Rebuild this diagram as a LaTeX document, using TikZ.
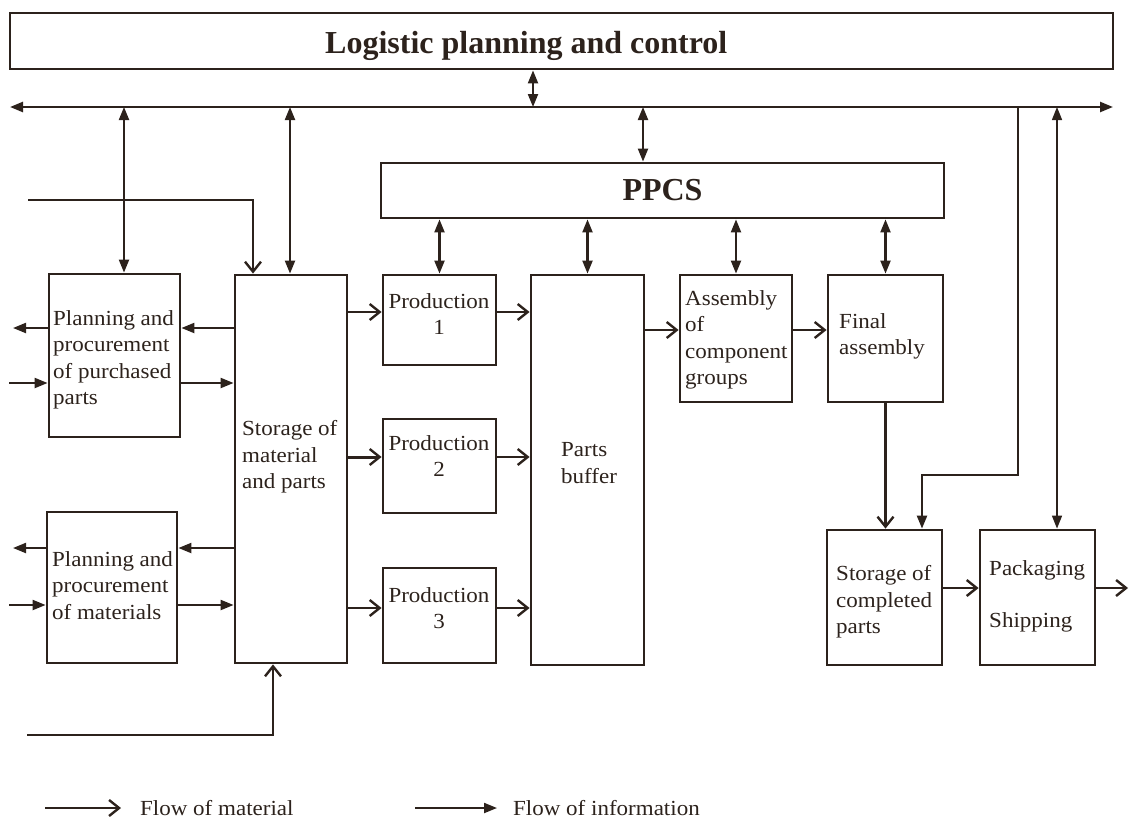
\documentclass[tikz,border=0pt]{standalone}
\usepackage{fontspec}
\setmainfont{Liberation Serif}
\newfontfamily\boxfont{Liberation Serif}[FakeStretch=1.07]
\usetikzlibrary{arrows.meta}
\definecolor{ink}{RGB}{44,34,28}
\begin{document}
\begin{tikzpicture}[x=1pt,y=-1pt,
  block/.style={draw=ink, line width=2.8pt, inner sep=0pt},
  txt/.style={font=\boxfont\fontsize{21.5}{26.3}\selectfont, text=ink, inner sep=0pt, align=left, anchor=north west},
  ctxt/.style={txt, align=center, anchor=north},
  head/.style={font=\bfseries\fontsize{32}{38}\selectfont, text=ink},
  mat/.style={draw=ink, line width=2.3pt, -{Straight Barb[length=10pt,width=16pt,line width=2.4pt]}},
  info/.style={draw=ink, line width=2.1pt, -{Triangle[length=13pt,width=10pt]}},
  info2/.style={draw=ink, line width=2.1pt, {Triangle[length=13pt,width=10pt]}-{Triangle[length=13pt,width=10pt]}},
  thinline/.style={line width=1.5pt}
]
\useasboundingbox (0,0) rectangle (1129,819);

% control levels
\node[block, minimum width=1103pt, minimum height=56pt] (lpc) at (561.5,41) {};
\node[head, inner sep=0pt, anchor=north west] (lpc-t) at (325,31.5) {Logistic planning and control};
\node[block, head, minimum width=563pt, minimum height=55pt] (ppcs) at (662.5,190.5) {PPCS};

% procurement and storage
\node[block, minimum width=131pt, minimum height=163pt] (pp1) at (114.5,355.5) {};
\node[txt] (pp1-t) at (53,310.5) {Planning and\\procurement\\of purchased\\parts};
\node[block, minimum width=130pt, minimum height=151pt] (pp2) at (112,587.5) {};
\node[txt] (pp2-t) at (52,551.5) {Planning and\\procurement\\of materials};
\node[block, minimum width=112pt, minimum height=388pt] (stor) at (291,469) {};
\node[txt] (stor-t) at (242,420.5) {Storage of\\material\\and parts};

% production
\node[block, minimum width=113pt, minimum height=90pt] (prod1) at (439.5,320) {};
\node[ctxt] (prod1-t) at (439,293.5) {Production\\1};
\node[block, minimum width=113pt, minimum height=94pt] (prod2) at (439.5,466) {};
\node[ctxt] (prod2-t) at (439,435.5) {Production\\2};
\node[block, minimum width=113pt, minimum height=95pt] (prod3) at (439.5,615.5) {};
\node[ctxt] (prod3-t) at (439,587.5) {Production\\3};
\node[block, minimum width=113pt, minimum height=390pt] (buf) at (587.5,470) {};
\node[txt] (buf-t) at (561,442.5) {Parts\\buffer};

% assembly and dispatch
\node[block, minimum width=112pt, minimum height=127pt] (asm) at (736,338.5) {};
\node[txt] (asm-t) at (685,290.5) {Assembly\\of\\component\\groups};
\node[block, minimum width=115pt, minimum height=127pt] (fin) at (885.5,338.5) {};
\node[txt] (fin-t) at (839,313.5) {Final\\assembly};
\node[block, minimum width=115pt, minimum height=135pt] (stc) at (884.5,597.5) {};
\node[txt] (stc-t) at (836,565.5) {Storage of\\completed\\parts};
\node[block, minimum width=115pt, minimum height=135pt] (pack) at (1037.5,597.5) {};
\node[txt] (pack-t) at (989,560.5) {Packaging\\[25.7pt]Shipping};

% information bus
\coordinate (busL) at (10,107);
\coordinate (busR) at (1113,107);
\draw[info2, line width=2.4pt] (busL) -- (busR);
\coordinate (j1) at (124,107);
\coordinate (j2) at (290,107);
\coordinate (j3) at (533,107);
\coordinate (j4) at (643,107);
\coordinate (j5) at (1018,107);
\coordinate (j6) at (1057,107);
\draw[info2] (lpc.south -| j3) -- (j3);
\draw[info2] (j1) -- (j1 |- pp1.north);
\draw[info2] (j2) -- (j2 |- stor.north);
\draw[info2] (j4) -- (j4 |- ppcs.north);
\draw[info2] (ppcs.south -| prod1.north) -- (prod1.north);
\draw[info2] (ppcs.south -| buf.north) -- (buf.north);
\draw[info2] (ppcs.south -| asm.north) -- (asm.north);
\draw[info2] (ppcs.south -| fin.north) -- (fin.north);
\coordinate (k1) at (1018,475);
\coordinate (k2) at (922,475);
\draw[info, line width=2.3pt] (j5) -- (k1) -- (k2) -- (k2 |- stc.north);
\draw[info2, thinline] (j6) -- (j6 |- pack.north);

% procurement information
\coordinate (oA) at (13,328);
\coordinate (iA) at (9,383);
\coordinate (oB) at (13,548);
\coordinate (iB) at (9,605);
\draw[info] (pp1.west |- oA) -- (oA);
\draw[info] (iA) -- (iA -| pp1.west);
\draw[info] (stor.west |- oA) -- (oA -| pp1.east);
\draw[info] (pp1.east |- iA) -- (iA -| stor.west);
\draw[info] (pp2.west |- oB) -- (oB);
\draw[info] (iB) -- (iB -| pp2.west);
\draw[info] (stor.west |- oB) -- (oB -| pp2.east);
\draw[info] (pp2.east |- iB) -- (iB -| stor.west);

% material flow
\coordinate (inA) at (28,200);
\coordinate (sA) at (253,200);
\draw[mat] (inA) -- (sA) -- (sA |- stor.north);
\coordinate (inB) at (27,735);
\coordinate (sB) at (273,735);
\draw[mat] (inB) -- (sB) -- (sB |- stor.south);
\coordinate (r1) at (0,312);
\coordinate (r2) at (0,457);
\coordinate (r3) at (0,608);
\coordinate (r4) at (0,330);
\coordinate (r5) at (0,588);
\draw[mat] (stor.east |- r1) -- (prod1.west |- r1);
\draw[mat, line width=3pt] (stor.east |- r2) -- (prod2.west |- r2);
\draw[mat] (stor.east |- r3) -- (prod3.west |- r3);
\draw[mat] (prod1.east |- r1) -- (buf.west |- r1);
\draw[mat, line width=2.9pt] (prod2.east |- r2) -- (buf.west |- r2);
\draw[mat] (prod3.east |- r3) -- (buf.west |- r3);
\draw[mat] (buf.east |- r4) -- (asm.west |- r4);
\draw[mat] (asm.east |- r4) -- (fin.west |- r4);
\draw[mat, line width=2.7pt] (fin.south) -- (fin.south |- stc.north);
\draw[mat] (stc.east |- r5) -- (pack.west |- r5);
\coordinate (out) at (1128,588);
\draw[mat] (pack.east |- r5) -- (out);

% legend
\coordinate (lm1) at (45,808);
\coordinate (lm2) at (121,808);
\coordinate (li1) at (415,808);
\coordinate (li2) at (497,808);
\draw[mat] (lm1) -- (lm2);
\node[txt, anchor=base west] (lm-t) at (140,815) {Flow of material};
\draw[info] (li1) -- (li2);
\node[txt, anchor=base west] (li-t) at (513,815) {Flow of information};
\end{tikzpicture}
\end{document}
